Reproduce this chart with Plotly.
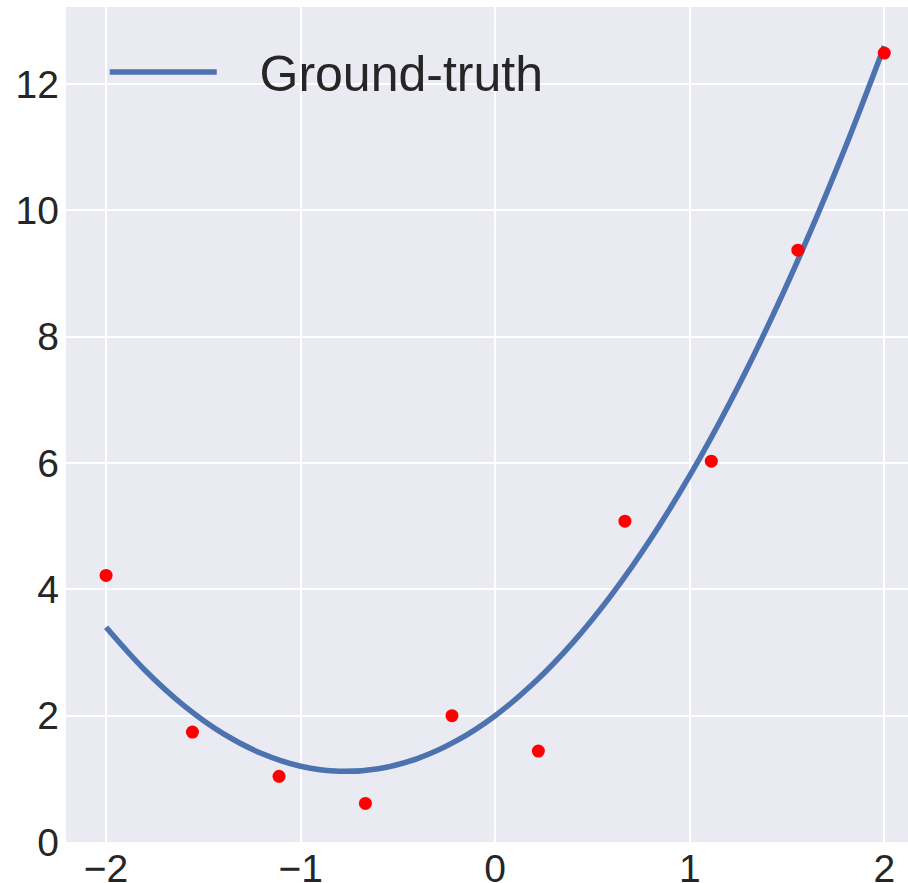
import plotly.graph_objects as go

# Ground-truth curve
curve_x = [-2.0, -1.8, -1.6, -1.4, -1.2, -1.0, -0.8, -0.6, -0.4, -0.2, 0.0,
           0.2, 0.4, 0.6, 0.8, 1.0, 1.2, 1.4, 1.6, 1.8, 2.0]
curve_y = [3.40, 2.72, 2.16, 1.72, 1.40, 1.20, 1.12, 1.16, 1.32, 1.60, 2.00,
           2.52, 3.16, 3.92, 4.80, 5.80, 6.92, 8.16, 9.52, 11.00, 12.60]

# Noisy samples (red dots)
pts_x = [-2.0, -1.556, -1.111, -0.667, -0.222, 0.222, 0.667, 1.111, 1.556, 2.0]
pts_y = [4.22, 1.74, 1.04, 0.61, 2.00, 1.44, 5.08, 6.03, 9.37, 12.49]

x_ticks = [-2, -1, 0, 1, 2]
x_tick_labels = ["\u22122", "\u22121", "0", "1", "2"]
y_ticks = [0, 2, 4, 6, 8, 10, 12]

fig = go.Figure()
fig.add_trace(go.Scatter(
    x=curve_x, y=curve_y, mode="lines", name="\u00a0\u00a0\u2009Ground-truth",
    line=dict(color="#4C72B0", width=5.5, shape="spline"),
))
fig.add_trace(go.Scatter(
    x=pts_x, y=pts_y, mode="markers", name="samples", showlegend=False,
    marker=dict(color="#FF0000", size=13),
))

font = "Liberation Sans, Arial, sans-serif"
fig.update_layout(
    width=908, height=883,
    margin=dict(l=66, r=0, t=7, b=41),
    paper_bgcolor="white",
    plot_bgcolor="#EAEAF2",
    font=dict(family=font, color="#262626", size=39),
    legend=dict(
        x=0.046, y=0.969, xanchor="left", yanchor="top",
        bgcolor="rgba(0,0,0,0)", borderwidth=0,
        font=dict(size=50, family=font, color="#262626"),
        itemwidth=107,
    ),
    xaxis=dict(
        range=[-2.206, 2.122], tickvals=x_ticks, ticktext=x_tick_labels,
        showgrid=True, gridcolor="white", gridwidth=1.5, zeroline=False,
        showline=False, ticks="", automargin=False, ticklabelstandoff=0,
        tickfont=dict(size=39),
    ),
    yaxis=dict(
        range=[0, 13.22], tickvals=y_ticks,
        showgrid=True, gridcolor="white", gridwidth=1.5, zeroline=False,
        showline=False, ticks="", automargin=False, ticklabelstandoff=6,
        tickfont=dict(size=39),
    ),
)
fig.write_html("out.html")
